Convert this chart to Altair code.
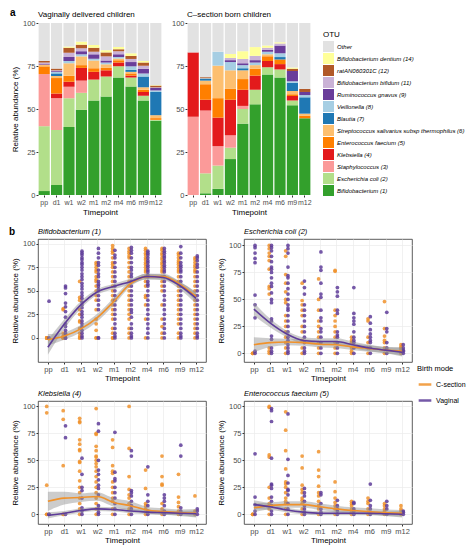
import json
import altair as alt
import pandas as pd

TP = ["pp", "d1", "w1", "w2", "m1", "m2", "m4", "m6", "m9", "m12"]

OTU = ["Bifidobacterium (1)", "Escherichia coli (2)", "Staphylococcus (3)", "Klebsiella (4)",
       "Enterococcus faecium (5)", "Streptococcus salivarius subsp thermophilus (6)", "Blautia (7)",
       "Veillonella (8)", "Ruminococcus gnavus (9)", "Bifidobacterium bifidum (11)",
       "ratAN060301C (12)", "Bifidobacterium dentium (14)", "Other"]
OTU_COLORS = ["#33a02c", "#b2df8a", "#fb9a99", "#e31a1c", "#ff7f00", "#fdbf6f", "#1f78b4",
              "#a6cee3", "#6a3d9a", "#cab2d6", "#b15928", "#ffff99", "#e2e2e2"]

# Vaginally delivered: mean relative abundance (%) per timepoint
V_BIF = [2.3, 5.8, 39.6, 49.5, 54.9, 57.2, 68.3, 63.1, 54.9, 43.2]
V_ECO = [37.7, 32.0, 16.7, 9.9, 12.2, 11.7, 6.5, 5.2, 2.8, 0.5]
V_STA = [30.3, 18.5, 6.7, 7.1, 0, 0, 0, 0, 0, 0]
V_KLE = [0, 2.7, 2.8, 7.4, 4.5, 3.6, 2.2, 1.1, 2.2, 0]
V_ENT = [4.5, 9.0, 3.6, 1.6, 2.1, 1.4, 1.4, 1.3, 1.3, 1.0]
V_STR = [1.0, 1.2, 7.2, 5.1, 4.5, 2.1, 0.9, 0.9, 1.4, 1.7]
V_BLA = [0, 1.5, 0, 0, 0, 0, 0, 1.2, 6.3, 13.5]
V_VEI = [0, 0.8, 1.3, 1.2, 1.0, 1.0, 0.9, 2.0, 1.8, 0.9]
V_RUM = [0.6, 0.5, 2.3, 1.8, 2.6, 1.2, 1.6, 2.5, 2.7, 1.4]
V_BBI = [0.6, 0.5, 2.5, 1.7, 1.5, 2.4, 1.8, 1.8, 1.8, 0.4]
V_RAT = [1.0, 1.0, 2.9, 2.1, 2.3, 2.3, 1.1, 1.8, 1.8, 1.0]
V_BDE = [0, 0, 0.7, 1.8, 1.6, 1.3, 1.3, 1.5, 0.9, 0.3]

# C-section born
C_BIF = [0, 1.0, 3.6, 20.9, 41.5, 52.7, 70.1, 68.3, 52.2, 44.6]
C_ECO = [0, 11.6, 13.5, 6.6, 8.5, 8.5, 4.2, 4.7, 2.8, 0]
C_STA = [45.5, 36.5, 11.3, 7.2, 1.8, 0, 0, 0, 0, 0]
C_KLE = [37.4, 6.3, 16.6, 20.7, 9.4, 8.2, 3.6, 3.1, 2.6, 0]
C_ENT = [0, 9.0, 11.3, 6.3, 6.2, 4.0, 2.7, 2.7, 1.0, 1.4]
C_STR = [0, 2.1, 18.9, 10.8, 5.1, 2.1, 1.2, 0, 1.8, 1.3]
C_BLA = [0, 1.1, 0, 0, 1.2, 0, 0, 1.4, 4.9, 9.5]
C_VEI = [0, 0.3, 8.1, 4.8, 1.8, 1.5, 1.5, 2.2, 0.9, 1.3]
C_RUM = [0, 0, 0, 1.1, 1.1, 1.4, 1.2, 4.5, 5.9, 1.8]
C_BBI = [0, 0, 0, 1.3, 2.5, 2.5, 1.1, 1.2, 0, 0]
C_RAT = [0, 0.6, 0, 0, 0, 0, 0, 0, 1.3, 1.8]
C_BDE = [0, 0, 0, 2.3, 4.5, 5.1, 1.3, 0.7, 0.7, 0]

MODES = ["C-section", "Vaginal"]
MODE_COLORS = ["#f0922b", "#5e3c99"]

# individual samples (relative abundance %), one list per timepoint
BIF_C = [[0, 0, 0, 0], [31, 30, 5, 2, 1, 0, 0, 0],
         [60, 43, 40, 30, 25, 18, 17, 10, 5, 2, 0, 0],
         [80, 78, 75, 72, 70, 65, 62, 60, 55, 50, 45, 40, 30, 20, 15, 8, 0, 0],
         [98, 95, 92, 90, 85, 80, 78, 75, 70, 65, 60, 55, 50, 45, 40, 35, 30, 25, 20, 10, 5, 0, 0],
         [95, 92, 90, 87, 85, 80, 75, 70, 65, 60, 55, 50, 45, 40, 35, 30, 25, 20, 10, 5, 0],
         [95, 93, 90, 88, 85, 83, 80, 78, 75, 72, 70, 65, 60, 55, 45, 43, 35, 20, 0],
         [95, 93, 90, 88, 85, 83, 80, 78, 75, 72, 70, 65, 60, 55, 50, 35, 20, 12, 5, 0],
         [90, 88, 85, 82, 80, 78, 75, 72, 70, 65, 60, 55, 50, 45, 40, 35, 30, 25, 20, 15, 5, 0],
         [85, 83, 80, 77, 75, 72, 70, 65, 60, 55, 50, 45, 40, 35, 30, 25, 20, 15, 10, 5, 0]]
BIF_V = [[39, 0], [55, 53, 47, 37, 33, 28, 22, 15, 12, 8, 5, 3, 0, 0],
         [92, 90, 88, 85, 83, 80, 78, 75, 72, 68, 65, 62, 58, 55, 52, 48, 45, 42, 38, 35, 32, 28, 25, 22, 18, 15, 12, 8, 5, 2, 0],
         [95, 90, 85, 80, 77, 72, 68, 65, 60, 57, 55, 52, 50, 45, 40, 35, 30, 0, 0],
         [93, 88, 85, 80, 75, 70, 65, 60, 55, 50, 45, 40, 35, 30, 25, 20, 15, 10, 5, 2, 0],
         [96, 93, 90, 85, 80, 75, 72, 68, 65, 60, 55, 50, 45, 40, 35, 30, 27, 22, 15, 10, 5, 2, 0],
         [92, 90, 88, 85, 82, 80, 77, 75, 72, 70, 67, 65, 60, 57, 55, 50, 45, 40, 35, 30, 25, 20, 15, 10, 5, 0],
         [95, 92, 90, 87, 85, 82, 80, 77, 75, 72, 70, 65, 60, 55, 50, 45, 40, 35, 30, 25, 20, 15, 10, 5, 0],
         [97, 90, 85, 80, 77, 75, 72, 70, 65, 60, 55, 50, 45, 40, 35, 30, 25, 20, 15, 10, 5, 2, 0],
         [87, 85, 82, 78, 75, 70, 65, 60, 55, 50, 45, 40, 35, 30, 25, 20, 15, 10, 5, 2, 0]]
ECO_C = [[0, 0, 0], [100, 97, 93, 90, 86, 78, 62, 60, 55, 5, 2, 0],
         [95, 90, 73, 65, 57, 50, 47, 35, 30, 25, 20, 15, 10, 5, 0],
         [65, 49, 45, 40, 35, 25, 20, 12, 5, 0], [69, 50, 40, 30, 25, 20, 15, 10, 5, 0],
         [77, 76, 40, 35, 30, 25, 20, 15, 10, 5, 0], [15, 12, 10, 5, 2, 0],
         [32, 30, 15, 10, 5, 0], [48, 23, 16, 12, 10, 5, 0], [8, 6, 5, 3, 0]]
ECO_V = [[100, 98, 93, 88, 84, 54, 45, 33, 2, 0],
         [100, 98, 95, 90, 85, 80, 78, 75, 70, 65, 62, 56, 50, 47, 32, 30, 16, 13, 5, 2, 0],
         [100, 97, 93, 80, 72, 70, 65, 60, 55, 50, 45, 42, 40, 35, 30, 25, 20, 15, 12, 8, 5, 2, 0],
         [67, 61, 55, 45, 40, 35, 30, 25, 20, 15, 10, 5, 2, 0],
         [94, 80, 77, 65, 55, 52, 40, 33, 30, 23, 20, 15, 10, 5, 0],
         [61, 57, 53, 40, 37, 20, 17, 15, 10, 5, 0], [61, 37, 33, 30, 27, 20, 15, 12, 10, 5, 0],
         [34, 28, 22, 18, 15, 12, 10, 5, 0], [38, 23, 20, 10, 5, 0], [8, 5, 3, 2, 0]]
KLE_C = [[100, 94, 27, 0, 0], [96, 88, 45, 0, 0],
         [89, 86, 85, 69, 65, 60, 59, 49, 48, 40, 31, 25, 20, 15, 10, 5, 0],
         [98, 75, 74, 63, 59, 54, 53, 50, 47, 44, 40, 35, 30, 25, 20, 15, 10, 5, 0],
         [69, 62, 45, 40, 38, 30, 25, 20, 15, 12, 5, 0], [100, 61, 35, 23, 18, 15, 10, 5, 0],
         [41, 24, 10, 8, 5, 0], [54, 35, 28, 27, 10, 5, 0], [37, 16, 11, 7, 3, 0], [17, 3, 0]]
KLE_V = [[0, 0], [82, 71, 0], [52, 37, 25, 22, 15, 6, 3, 0],
         [84, 77, 50, 41, 37, 32, 27, 24, 18, 8, 5, 2, 0],
         [76, 39, 33, 31, 25, 20, 15, 10, 5, 0], [59, 54, 22, 20, 17, 12, 8, 5, 0],
         [44, 18, 12, 8, 3, 0], [18, 15, 12, 8, 3, 0], [64, 54, 6, 3, 0], [5, 3, 0]]
ENT_C = [[0, 0, 0], [100, 99, 55, 53, 25, 15, 10, 5, 0],
         [95, 78, 59, 42, 30, 28, 25, 20, 15, 12, 10, 5, 0],
         [54, 43, 27, 23, 20, 15, 13, 10, 5, 0], [58, 41, 35, 26, 20, 17, 12, 8, 5, 0],
         [30, 21, 15, 11, 8, 5, 0], [12, 10, 8, 5, 2, 0], [15, 12, 10, 5, 0],
         [10, 8, 5, 3, 0], [8, 5, 3, 0]]
ENT_V = [[56, 16, 9, 3, 0], [98, 96, 86, 52, 28, 27, 24, 16, 12, 8, 3, 0],
         [93, 51, 36, 29, 23, 22, 18, 10, 5, 0], [24, 20, 17, 12, 8, 5, 2, 0],
         [20, 18, 10, 5, 2, 0], [13, 8, 5, 3, 0], [11, 10, 5, 3, 0], [28, 13, 8, 5, 0],
         [12, 8, 5, 0], [3, 2, 0]]

# loess fits and their standard-error half widths
BIF_C_FIT = [-2, 2, 9.6, 21.5, 38.6, 57.3, 65, 65, 57, 43.7]
BIF_V_FIT = [-9.9, 14.7, 35, 48.8, 54.6, 59.7, 65.2, 64.2, 55.6, 42]
BIF_C_SE = [6, 4, 4, 4, 4, 3, 3, 3, 3, 5]
BIF_V_SE = [8, 5, 4, 3, 3, 3, 3, 3, 4, 6]
ECO_C_FIT = [8, 10, 10.5, 10, 8.5, 8, 6, 4.5, 3, 2]
ECO_V_FIT = [41, 28, 18, 12, 11, 11, 8, 5, 3, 1]
ECO_C_SE = [7, 4, 3, 3, 3, 3, 3, 3, 3, 4]
ECO_V_SE = [6, 4, 3, 3, 3, 3, 3, 3, 3, 4]
KLE_C_FIT = [12, 15, 15.5, 16.5, 11, 8, 4, 2.5, 1.5, 1]
KLE_V_FIT = [-1, 1, 3.5, 5, 4.5, 3, 2, 1.5, 1, 0.5]
KLE_C_SE = [9, 6, 4, 4, 4, 4, 3, 3, 3, 4]
KLE_V_SE = [3, 2, 2, 2, 2, 2, 2, 2, 2, 3]
ENT_C_FIT = [6, 8, 9, 9, 7, 5, 3.5, 2.5, 1.5, 1]
ENT_V_FIT = [9, 7, 4, 2, 1, 1, 1, 1, 0.5, 0]
ENT_C_SE = [4, 3, 3, 3, 3, 3, 3, 3, 3, 3]
ENT_V_SE = [4, 3, 2, 2, 2, 2, 2, 2, 2, 3]

LABEL_COLOR = "#4d4d4d"
BAR_W, BAR_H = 124, 172
PW, PH = 168, 123


def text_layer(txt, x, y, size, weight="normal", style="normal"):
    return alt.Chart(pd.DataFrame({"t": [txt]})).mark_text(
        fontWeight=weight, fontStyle=style, fontSize=size, align="left",
        baseline="bottom", color="black").encode(
        text="t:N", x=alt.value(x), y=alt.value(y))


def bar_chart(series, title, show_y, legend, tag=None):
    rows = []
    for i, tp in enumerate(TP):
        total = 0
        for k, vals in enumerate(series):
            rows.append({"tp": tp, "otu": OTU[k], "ord": k, "val": vals[i]})
            total += vals[i]
        rows.append({"tp": tp, "otu": "Other", "ord": len(series), "val": 100 - total})
    df = pd.DataFrame(rows)
    yaxis = alt.Axis(values=[0, 25, 50, 75, 100], grid=False, domain=False, tickColor="#333333",
                     tickSize=2, labelFontSize=7.5, labelColor=LABEL_COLOR, labelPadding=1,
                     titleFontSize=8, titleFontWeight="normal", titlePadding=3)
    bars = alt.Chart(df).mark_bar().encode(
        x=alt.X("tp:N", sort=TP, scale=alt.Scale(paddingInner=0.1, paddingOuter=0.05),
                axis=alt.Axis(labelAngle=0, domain=False, tickColor="#333333", tickSize=2,
                              labelFontSize=7, labelColor=LABEL_COLOR, labelPadding=1,
                              titleFontSize=8, titleFontWeight="normal", titlePadding=3),
                title="Timepoint"),
        y=alt.Y("val:Q", stack="zero", scale=alt.Scale(domain=[0, 100], nice=False), axis=yaxis,
                title=("Relative abundance (%)" if show_y else None)),
        color=alt.Color("otu:N", scale=alt.Scale(domain=OTU[::-1], range=OTU_COLORS[::-1]),
                        legend=legend),
        order=alt.Order("ord:Q", sort="ascending"),
    )
    layers = [bars, text_layer(title, 0, -4, 8)]
    if tag:
        layers.append(text_layer(tag, -28, -5, 10, weight="bold"))
    return alt.layer(*layers).properties(width=BAR_W, height=BAR_H)


XLAB = "%s[datum.value]" % json.dumps(TP)

# legend sits in the gap right of the lower-right panels (coordinates relative to the lower block)
mode_legend = alt.Legend(title="Birth mode", orient="none", legendX=379, legendY=PH + 3,
                         symbolType="stroke", symbolStrokeWidth=2.5, symbolSize=160,
                         labelFontSize=7, titleFontSize=7.5, titleFontWeight="normal",
                         labelOffset=3, rowPadding=3, titlePadding=4)


def panel(title, pc, pv, fc, fv, sc, sv, ydom, tag=None):
    prow = []
    for mode, pts, dx in (("C-section", pc, -0.07), ("Vaginal", pv, 0.07)):
        for i, vals in enumerate(pts):
            for v in vals:
                prow.append({"xp": i + dx, "val": v, "mode": mode})
    pdf = pd.DataFrame(prow)
    frow = []
    for mode, f, s in (("C-section", fc, sc), ("Vaginal", fv, sv)):
        for i, (a, b) in enumerate(zip(f, s)):
            frow.append({"xp": i, "val": a, "lo": a - b, "hi": a + b, "mode": mode})
    fdf = pd.DataFrame(frow)
    xs = alt.Scale(domain=[-0.6, 9.6], nice=False, zero=False)
    ys = alt.Scale(domain=ydom, nice=False, zero=False)
    xaxis = alt.Axis(values=list(range(10)), labelExpr=XLAB, grid=True, gridColor="#ebebeb",
                     gridWidth=0.7, domain=False, tickColor="#333333", tickSize=2,
                     labelFontSize=7.5, labelColor=LABEL_COLOR, labelPadding=1,
                     titleFontSize=8, titleFontWeight="normal", titlePadding=2)
    yaxis = alt.Axis(values=[0, 25, 50, 75, 100], grid=True, gridColor="#ebebeb", gridWidth=0.7,
                     domain=False, tickColor="#333333", tickSize=2, labelFontSize=7.5,
                     labelColor=LABEL_COLOR, labelPadding=1, titleFontSize=8,
                     titleFontWeight="normal", titlePadding=3)
    X = alt.X("xp:Q", scale=xs, axis=xaxis, title="Timepoint")
    Y = alt.Y("val:Q", scale=ys, axis=yaxis, title="Relative abundance (%)")
    color = alt.Color("mode:N", scale=alt.Scale(domain=MODES, range=MODE_COLORS),
                      legend=mode_legend)
    pts = alt.Chart(pdf).mark_circle(size=14, opacity=0.85, clip=True).encode(x=X, y=Y, color=color)
    band = alt.Chart(fdf).mark_area(interpolate="monotone", color="#8f8f8f", opacity=0.45,
                                    clip=True).encode(
        x=X, y=alt.Y("lo:Q", scale=ys, axis=yaxis, title="Relative abundance (%)"), y2="hi:Q",
        detail="mode:N")
    line = alt.Chart(fdf).mark_line(interpolate="monotone", strokeWidth=1.6, clip=True).encode(
        x=X, y=Y, color=color)
    layers = [pts, band, line, text_layer(title, 0, -3, 7.5, style="italic")]
    if tag:
        layers.append(text_layer(tag, -29, -2, 10, weight="bold"))
    return alt.layer(*layers).properties(
        width=PW, height=PH,
        view=alt.ViewBackground(stroke="#333333", strokeWidth=0.8, fill="white"))


otu_legend = alt.Legend(title="OTU", orient="none", legendX=BAR_W + 12, legendY=8,
                        symbolType="square", symbolSize=121, symbolStrokeWidth=0,
                        labelFontSize=6, labelFontStyle="italic", labelLimit=220,
                        titleFontSize=8, titleFontWeight="normal", rowPadding=1,
                        labelOffset=3, titlePadding=2)

barV = bar_chart([V_BIF, V_ECO, V_STA, V_KLE, V_ENT, V_STR, V_BLA, V_VEI, V_RUM, V_BBI, V_RAT, V_BDE],
                 "Vaginally delivered children", True, None, tag="a")
barC = bar_chart([C_BIF, C_ECO, C_STA, C_KLE, C_ENT, C_STR, C_BLA, C_VEI, C_RUM, C_BBI, C_RAT, C_BDE],
                 "C\u2013section born children", False, otu_legend)

p1 = panel("Bifidobacterium (1)", BIF_C, BIF_V, BIF_C_FIT, BIF_V_FIT, BIF_C_SE, BIF_V_SE,
           [-25.6, 105], tag="b")
p2 = panel("Escherichia coli (2)", ECO_C, ECO_V, ECO_C_FIT, ECO_V_FIT, ECO_C_SE, ECO_V_SE,
           [-8, 106])
p3 = panel("Klebsiella (4)", KLE_C, KLE_V, KLE_C_FIT, KLE_V_FIT, KLE_C_SE, KLE_V_SE, [-9, 105])
p4 = panel("Enterococcus faecium (5)", ENT_C, ENT_V, ENT_C_FIT, ENT_V_FIT, ENT_C_SE, ENT_V_SE,
           [-9, 105])

row1 = alt.hconcat(barV, barC, spacing=8).resolve_scale(color="independent")
row2 = alt.hconcat(p1, p2, spacing=10).resolve_scale(color="shared")
row3 = alt.hconcat(p3, p4, spacing=10).resolve_scale(color="shared")
lower = alt.vconcat(row2, row3, spacing=6).resolve_scale(color="shared")

chart = alt.vconcat(row1, lower, spacing=10).resolve_scale(color="independent").properties(
    padding={"left": 0, "top": 0, "right": 0, "bottom": 0}
).configure(font="Liberation Sans").configure_axis(titleFontWeight="normal").configure_view(stroke=None)

chart.save("out.html", embed_options={"renderer": "svg", "actions": False})
